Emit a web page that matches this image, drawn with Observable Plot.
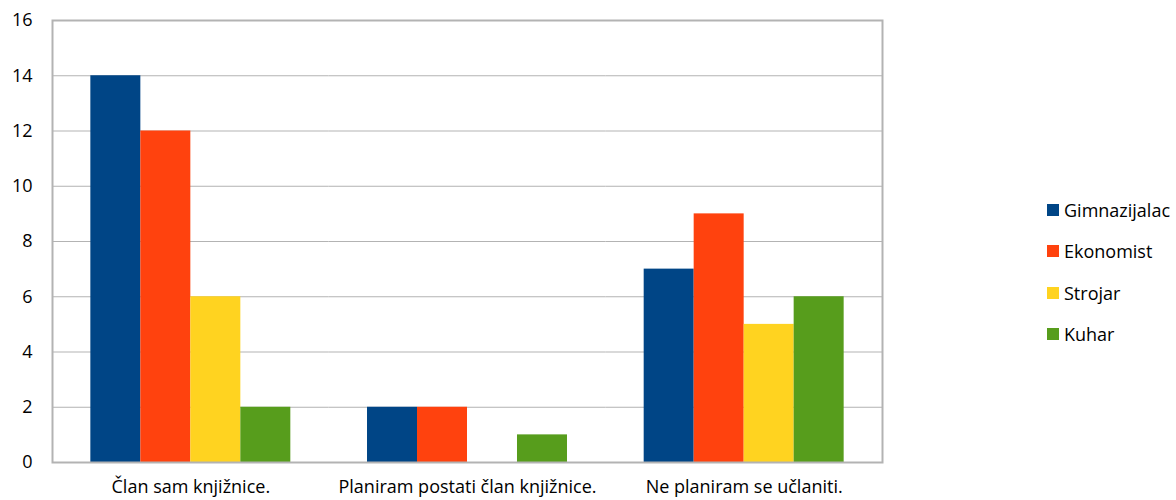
<!DOCTYPE html>
<html>
<head>
<meta charset="utf-8">
<script src="https://cdn.jsdelivr.net/npm/d3@7"></script>
<script src="https://cdn.jsdelivr.net/npm/@observablehq/plot@0.6"></script>
<style>
  html, body { margin: 0; padding: 0; background: #fff; }
  #wrap { position: relative; width: 1176px; height: 500px; font-family: "Open Sans", sans-serif; }
  #legend { position: absolute; left: 1047px; top: 189px; font-size: 18px; color: #000; }
  .item { display: flex; align-items: center; height: 41.5px; }
  .sw { width: 12px; height: 12px; margin-right: 5px; }
</style>
</head>
<body>
<div id="wrap"><div id="chart"></div><div id="legend"></div></div>
<script>
const categories = ["Član sam knjižnice.", "Planiram postati član knjižnice.", "Ne planiram se učlaniti."];
const series = ["Gimnazijalac", "Ekonomist", "Strojar", "Kuhar"];
const colors = ["#004586", "#ff420e", "#ffd320", "#579d1c"];
const gimnazijalac = [14, 2, 7];
const ekonomist = [12, 2, 9];
const strojar = [6, 0, 5];
const kuhar = [2, 1, 6];
const yTicks = [0, 2, 4, 6, 8, 10, 12, 14, 16];

const values = [gimnazijalac, ekonomist, strojar, kuhar];
const data = [];
categories.forEach((c, i) => series.forEach((s, j) => data.push({cat: c, series: s, value: values[j][i]})));

const chart = Plot.plot({
  width: 900,
  height: 500,
  marginLeft: 52,
  marginRight: 18,
  marginTop: 20,
  marginBottom: 38,
  style: {fontFamily: "Open Sans", fontSize: "18px", color: "#000", background: "#fff"},
  fx: {domain: categories, padding: 0, label: null, round: false},
  x: {domain: series, paddingInner: 0, paddingOuter: 0.767, axis: null, round: false},
  y: {domain: [0, 16], label: null},
  color: {domain: series, range: colors},
  marks: [
    Plot.gridY(yTicks, {stroke: "#b3b3b3", strokeOpacity: 1, strokeWidth: 1}),
    Plot.barY(data, {fx: "cat", x: "series", y: "value", fill: "series", inset: 0}),
    Plot.frame({facet: "super", stroke: "#b3b3b3", strokeWidth: 2}),
    Plot.axisY(yTicks, {tickSize: 0, tickPadding: 20, label: null, fontSize: 18}),
    Plot.axisFx({anchor: "bottom", tickSize: 0, tickPadding: 18, label: null, fontSize: 18})
  ]
});
document.getElementById("chart").appendChild(chart);

const legend = document.getElementById("legend");
series.forEach((s, i) => {
  const item = document.createElement("div");
  item.className = "item";
  const sw = document.createElement("div");
  sw.className = "sw";
  sw.style.background = colors[i];
  const t = document.createElement("span");
  t.textContent = s;
  item.appendChild(sw);
  item.appendChild(t);
  legend.appendChild(item);
});
</script>
</body>
</html>
